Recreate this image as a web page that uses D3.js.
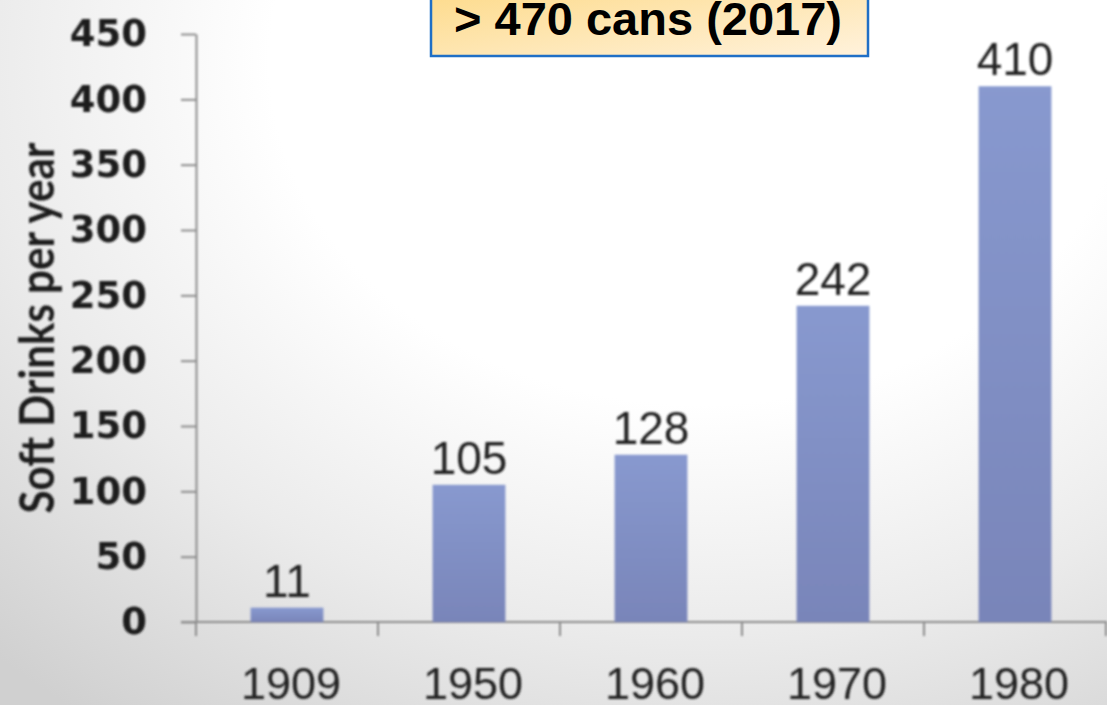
<!DOCTYPE html>
<html>
<head>
<meta charset="utf-8">
<script src="https://cdn.jsdelivr.net/npm/d3@7"></script>
<style>
  html, body { margin: 0; padding: 0; background: #ffffff; }
  svg { display: block; }
</style>
</head>
<body>
<div id="chart"></div>
<script>
// Soft drink consumption per person, by year
const years = ["1909", "1950", "1960", "1970", "1980"];
const drinks = [11, 105, 128, 242, 410];
const yTicks = [0, 50, 100, 150, 200, 250, 300, 350, 400, 450];
const yTitle = "Soft Drinks per year";
const callout = "> 470 cans (2017)";

const W = 1107, H = 705;
const margin = { top: 34, right: 1, bottom: 83, left: 196 };

const svg = d3.select("#chart").append("svg")
  .attr("width", W).attr("height", H);

const defs = svg.append("defs");

// soft page backdrop: white at the top fading to grey at the bottom
const bg = defs.append("radialGradient").attr("id", "bg")
  .attr("gradientUnits", "userSpaceOnUse")
  .attr("cx", 700).attr("cy", 60).attr("r", 820)
  .attr("gradientTransform", "translate(700,60) scale(1.25,1) translate(-700,-60)");
bg.append("stop").attr("offset", "0").attr("stop-color", "#ffffff");
bg.append("stop").attr("offset", "0.42").attr("stop-color", "#ffffff");
bg.append("stop").attr("offset", "0.7").attr("stop-color", "#ebebeb");
bg.append("stop").attr("offset", "1").attr("stop-color", "#d0d0d0");

const barGrad = defs.append("linearGradient").attr("id", "bar")
  .attr("x1", 0).attr("y1", 0).attr("x2", 0).attr("y2", 1);
barGrad.append("stop").attr("offset", "0").attr("stop-color", "#8899cf");
barGrad.append("stop").attr("offset", "1").attr("stop-color", "#7985b9");

const boxGrad = defs.append("linearGradient").attr("id", "box")
  .attr("x1", 0).attr("y1", 0).attr("x2", 1).attr("y2", 1);
boxGrad.append("stop").attr("offset", "0").attr("stop-color", "#fdd985");
boxGrad.append("stop").attr("offset", "1").attr("stop-color", "#fff2dc");

defs.append("filter").attr("id", "soft")
  .attr("x", "-5%").attr("y", "-5%").attr("width", "110%").attr("height", "110%")
  .append("feGaussianBlur").attr("stdDeviation", 0.8);

svg.append("rect").attr("width", W).attr("height", H).attr("fill", "url(#bg)");

const x = d3.scaleBand()
  .domain(years)
  .range([margin.left, W - margin.right])
  .paddingInner(0.6)
  .paddingOuter(0.3);

const y = d3.scaleLinear()
  .domain([0, 450])
  .range([H - margin.bottom, margin.top]);

const g = svg.append("g").attr("filter", "url(#soft)");

// y axis
const yAxis = g.append("g")
  .attr("transform", `translate(${margin.left},0)`)
  .call(d3.axisLeft(y).tickValues(yTicks).tickSize(15).tickPadding(34).tickSizeOuter(0));
yAxis.select(".domain").attr("stroke", "#8c8c8c").attr("stroke-width", 2);
yAxis.selectAll(".tick line").attr("stroke", "#8c8c8c").attr("stroke-width", 2);
yAxis.selectAll(".tick text")
  .attr("font-family", "DejaVu Sans")
  .attr("font-weight", "bold")
  .attr("font-size", 37)
  .attr("fill", "#1e1e1e");

// x axis: baseline with ticks at category boundaries
const x0 = y(0);
const step = x.step();
const bounds = years.map(d => x(d) - step * x.paddingOuter()).concat([x.range()[1]]);
g.append("line")
  .attr("x1", margin.left - 15).attr("x2", W)
  .attr("y1", x0).attr("y2", x0)
  .attr("stroke", "#8c8c8c").attr("stroke-width", 2);
g.selectAll(".xtick").data(bounds).join("line")
  .attr("class", "xtick")
  .attr("x1", d => d).attr("x2", d => d)
  .attr("y1", x0).attr("y2", x0 + 14)
  .attr("stroke", "#8c8c8c").attr("stroke-width", 2);

g.selectAll(".xlabel").data(years).join("text")
  .attr("class", "xlabel")
  .attr("x", d => x(d) + x.bandwidth() / 2 + 4)
  .attr("y", 699)
  .attr("text-anchor", "middle")
  .attr("font-family", "Liberation Sans, Arial, sans-serif")
  .attr("font-size", 45)
  .attr("fill", "#222")
  .text(d => d);

// bars
g.selectAll(".bar").data(years).join("rect")
  .attr("class", "bar")
  .attr("x", d => x(d))
  .attr("width", x.bandwidth())
  .attr("y", (d, i) => y(drinks[i]))
  .attr("height", (d, i) => y(0) - y(drinks[i]))
  .attr("fill", "url(#bar)");

// value labels
g.selectAll(".val").data(years).join("text")
  .attr("class", "val")
  .attr("x", d => x(d) + x.bandwidth() / 2)
  .attr("y", (d, i) => y(drinks[i]) - 11)
  .attr("text-anchor", "middle")
  .attr("font-family", "Liberation Sans, Arial, sans-serif")
  .attr("font-size", 46)
  .attr("fill", "#222")
  .text((d, i) => drinks[i]);

// y axis title
g.append("text")
  .attr("transform", "translate(54,328) rotate(-90)")
  .attr("text-anchor", "middle")
  .attr("font-family", "Lato, sans-serif")
  .attr("font-weight", "bold")
  .attr("font-size", 47)
  .attr("textLength", 371)
  .attr("lengthAdjust", "spacingAndGlyphs")
  .attr("fill", "#1e1e1e")
  .text(yTitle);

// callout box
svg.append("rect")
  .attr("x", 431).attr("y", -20)
  .attr("width", 437).attr("height", 76)
  .attr("fill", "url(#box)")
  .attr("stroke", "#1f6fc6").attr("stroke-width", 2.5);
svg.append("text")
  .attr("x", 648).attr("y", 35)
  .attr("text-anchor", "middle")
  .attr("font-family", "Liberation Sans, Arial, sans-serif")
  .attr("font-weight", "bold")
  .attr("font-size", 47)
  .attr("fill", "#000")
  .text(callout);
</script>
</body>
</html>
